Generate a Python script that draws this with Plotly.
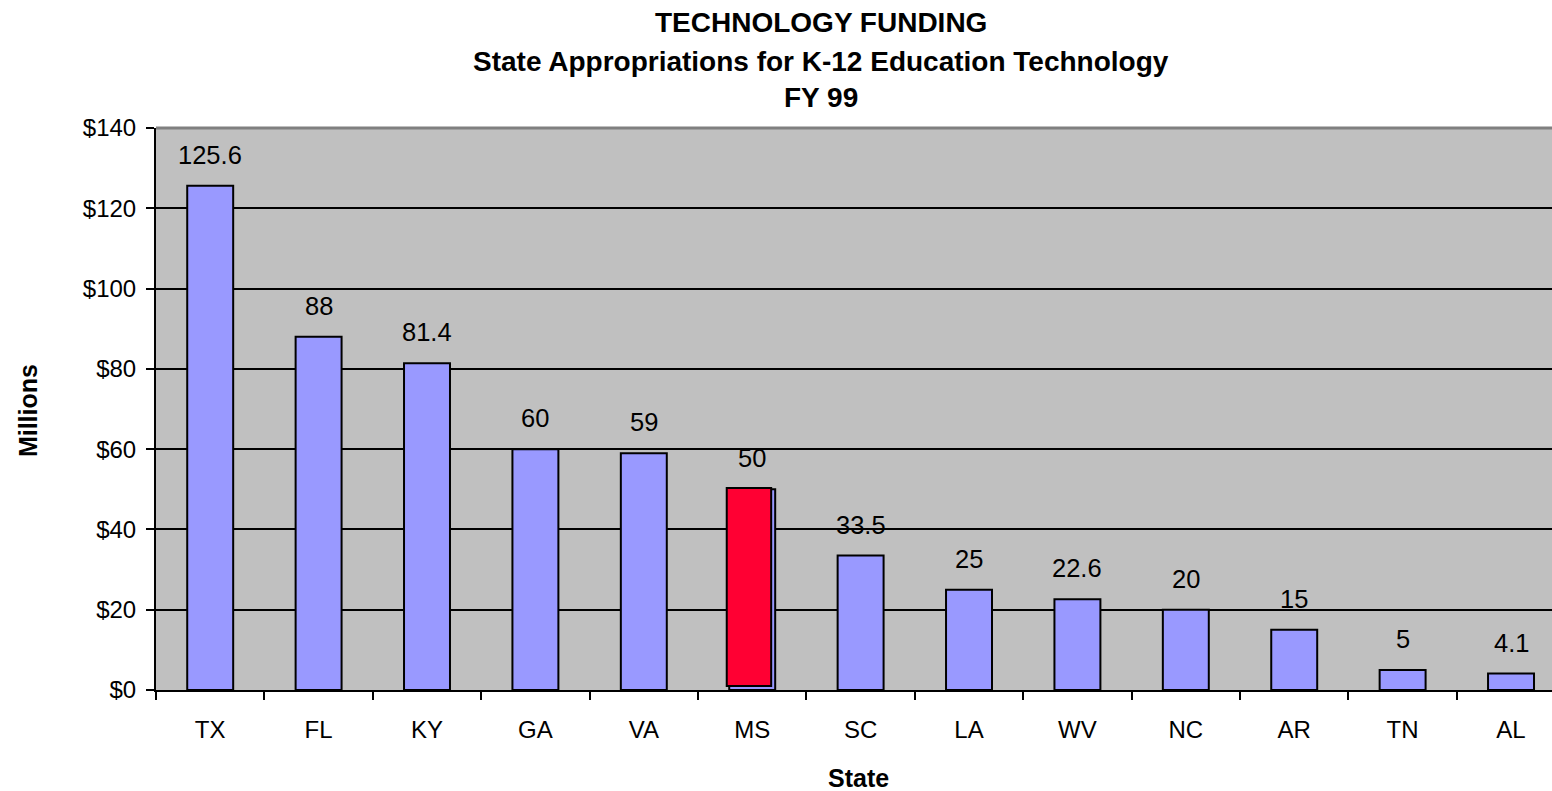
import plotly.graph_objects as go

# FY 99 state appropriations for K-12 education technology ($ millions)
states = ["TX", "FL", "KY", "GA", "VA", "MS", "SC", "LA", "WV", "NC", "AR", "TN", "AL"]
funding = [125.6, 88, 81.4, 60, 59, 50, 33.5, 25, 22.6, 20, 15, 5, 4.1]
label_text = ["125.6", "88", "81.4", "60", "59", "50", "33.5", "25", "22.6", "20", "15", "5", "4.1"]

highlight_state = "MS"
highlight_value = funding[states.index(highlight_state)]

y_ticks = [0, 20, 40, 60, 80, 100, 120, 140]
y_tick_text = ["$0", "$20", "$40", "$60", "$80", "$100", "$120", "$140"]

title_lines = [
    "TECHNOLOGY FUNDING",
    "State Appropriations for K-12 Education Technology",
    "FY 99",
]

FONT = "Liberation Sans, Arial, sans-serif"
BAR_COLOR = "#9999FF"
HIGHLIGHT_COLOR = "#FF0033"
BAR_WIDTH = 0.424

fig = go.Figure()

fig.add_trace(go.Bar(
    x=states,
    y=funding,
    width=BAR_WIDTH,
    marker=dict(color=BAR_COLOR, line=dict(color="black", width=2)),
    hoverinfo="x+y",
    showlegend=False,
))

# highlighted state drawn on top, nudged up-left over its own bar
fig.add_trace(go.Bar(
    x=[highlight_state],
    y=[highlight_value - 0.7],
    base=[1.0],
    width=BAR_WIDTH - 0.014,
    offset=-BAR_WIDTH / 2 - 0.023,
    marker=dict(color=HIGHLIGHT_COLOR, line=dict(color="black", width=2)),
    hoverinfo="skip",
    showlegend=False,
))

# value labels above each bar
for s, v, t in zip(states, funding, label_text):
    fig.add_annotation(
        x=s, y=v, xref="x", yref="y", text=t, showarrow=False,
        yanchor="bottom", yshift=15,
        font=dict(family=FONT, size=25.5, color="black"),
    )

# three-line bold title
title_y = [1.1886, 1.1192, 1.0534]
for line, ty in zip(title_lines, title_y):
    fig.add_annotation(
        x=0.4764, y=ty, xref="paper", yref="paper", text=f"<b>{line}</b>",
        showarrow=False, xanchor="center", yanchor="middle",
        font=dict(family=FONT, size=28, color="black"),
    )

# axis titles
fig.add_annotation(
    x=0.503, y=-0.1566, xref="paper", yref="paper", text="<b>State</b>",
    showarrow=False, xanchor="center", yanchor="middle",
    font=dict(family=FONT, size=25, color="black"),
)
fig.add_annotation(
    x=-0.0917, y=0.498, xref="paper", yref="paper", text="<b>Millions</b>",
    showarrow=False, xanchor="center", yanchor="middle", textangle=-90,
    font=dict(family=FONT, size=25, color="black"),
)

# grey top border of the plot area
fig.add_shape(
    type="line", xref="paper", yref="paper", x0=0, x1=1, y0=1, y1=1,
    line=dict(color="#808080", width=3),
)

fig.update_layout(
    width=1552,
    height=791,
    margin=dict(l=156, r=0, t=128, b=101),
    paper_bgcolor="white",
    plot_bgcolor="#C0C0C0",
    barmode="overlay",
    font=dict(family=FONT, size=24, color="black"),
    showlegend=False,
)

fig.update_xaxes(
    type="category",
    categoryorder="array",
    categoryarray=states,
    range=[-0.5, 12.378],
    tickson="boundaries",
    ticks="outside",
    ticklen=8,
    tickwidth=2,
    tickcolor="black",
    showline=True,
    linecolor="black",
    linewidth=2,
    showgrid=False,
    ticklabelstandoff=17,
    tickfont=dict(family=FONT, size=24, color="black"),
)

fig.update_yaxes(
    range=[0, 140],
    tickvals=y_ticks,
    ticktext=y_tick_text,
    ticks="outside",
    ticklen=8,
    tickwidth=2,
    tickcolor="black",
    showline=True,
    linecolor="black",
    linewidth=2,
    showgrid=True,
    gridcolor="black",
    gridwidth=1.5,
    zeroline=False,
    ticklabelstandoff=5,
    tickfont=dict(family=FONT, size=24, color="black"),
)

fig.write_html("out.html")
